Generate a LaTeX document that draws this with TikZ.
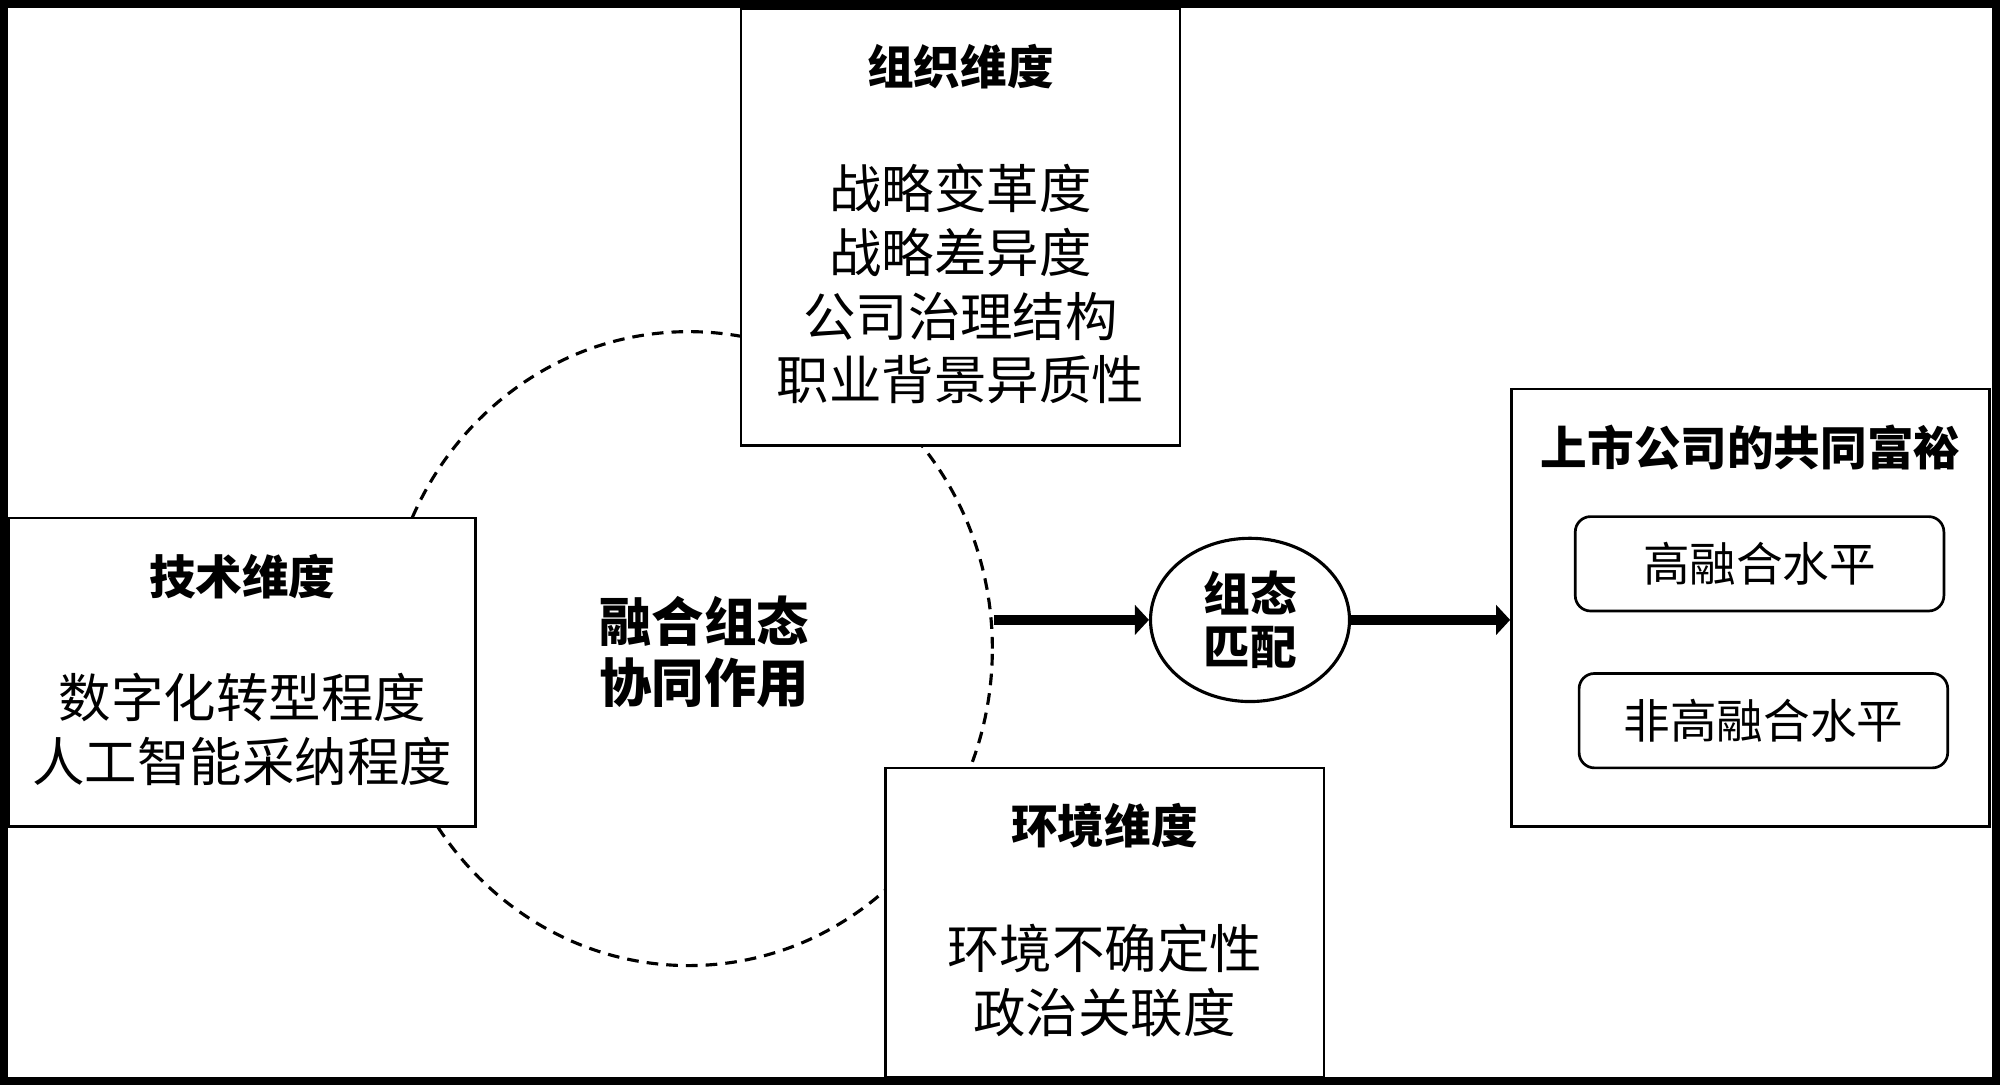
\documentclass[tikz,border=0pt]{standalone}
\usepackage{fontspec}
\setmainfont{Noto Sans CJK SC}
\usetikzlibrary{arrows.meta,shapes.geometric,positioning}

\begin{document}
\begin{tikzpicture}[
  box/.style={draw, line width=0.6pt, fill=white, inner sep=0pt},
  pill/.style={draw, line width=0.6pt, rounded corners=1.2mm, minimum width=2.89cm, minimum height=0.74cm, font=\fontsize{10.4}{12}\selectfont},
  head/.style={font=\bfseries\fontsize{10.4}{12}\selectfont},
  items/.style={align=center, font=\fontsize{11.7}{14.2}\selectfont},
  flow/.style={line width=2.2pt, -{Triangle[length=1.1mm,width=2.3mm]}}
]
  \useasboundingbox (0,0) rectangle (15.68,-8.51);
  % dashed ring behind the three dimensions
  \node[ellipse, draw, dash pattern=on 2.6pt off 1.8pt, line width=0.7pt, minimum width=4.76cm, minimum height=4.97cm] (ring) at (5.40,-5.085) {};
  \node[align=center, font=\bfseries\fontsize{11.7}{13.7}\selectfont] (ringtext) at (5.52,-5.11) {融合组态\\协同作用};

  \node[box, minimum width=3.44cm, minimum height=3.42cm] (org) at (7.53,-1.78) {};
  \node[head] (orghead) at ([yshift=-0.46cm]org.north) {组织维度};
  \node[items] (orgitems) at ([yshift=-2.17cm]org.north) {战略变革度\\战略差异度\\公司治理结构\\职业背景异质性};

  \node[box, minimum width=3.66cm, minimum height=2.42cm] (tech) at (1.90,-5.27) {};
  \node[head] (techhead) at ([yshift=-0.47cm]tech.north) {技术维度};
  \node[items] (techitems) at ([yshift=-1.67cm]tech.north) {数字化转型程度\\人工智能采纳程度};

  \node[box, minimum width=3.44cm, minimum height=2.43cm] (env) at (8.66,-7.235) {};
  \node[head] (envhead) at ([yshift=-0.46cm]env.north) {环境维度};
  \node[items] (envitems) at ([yshift=-1.68cm]env.north) {环境不确定性\\政治关联度};

  \node[ellipse, draw, line width=0.7pt, minimum width=1.56cm, minimum height=1.28cm, inner sep=0pt, align=center, font=\bfseries\fontsize{10.4}{11.7}\selectfont] (match) at (9.80,-4.86) {组态\\匹配};

  \node[box, minimum width=3.75cm, minimum height=3.43cm] (result) at (13.725,-4.765) {};
  \node[head] (resulthead) at ([yshift=-0.47cm]result.north) {上市公司的共同富裕};
  \node[pill] (high) at (13.795,-4.42) {高融合水平};
  \node[pill] (low) at (13.825,-5.65) {非高融合水平};

  \draw[flow] (ring.east |- match.west) -- (match.west);
  \draw[flow] (match.east) -- (match.east -| result.west);

  \draw[line width=1.8pt] (0.032,-0.032) rectangle (15.648,-8.478);
\end{tikzpicture}
\end{document}
